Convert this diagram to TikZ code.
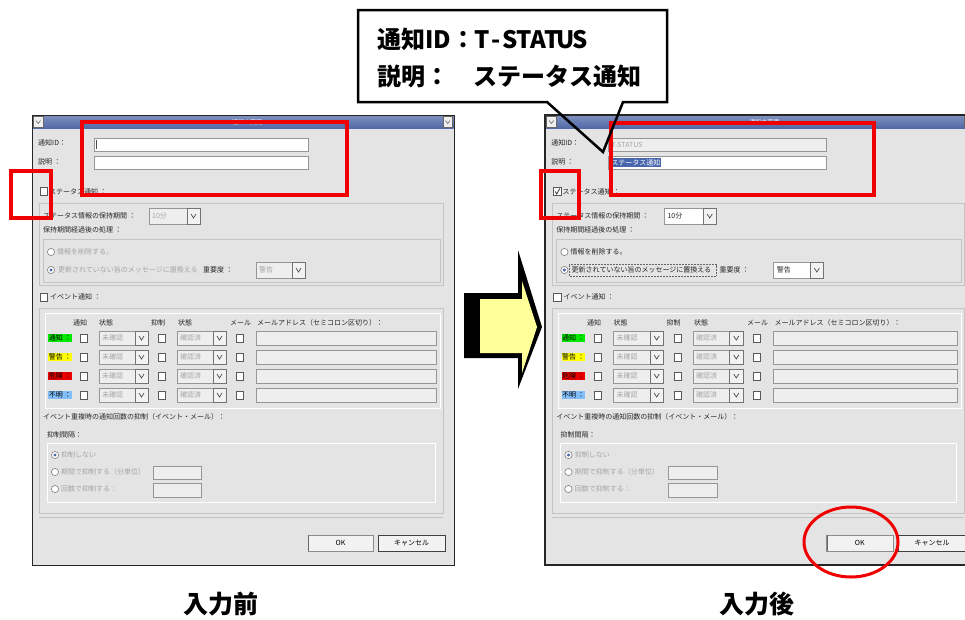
\documentclass[tikz,border=0pt]{standalone}
\usepackage{fontspec}
\newfontfamily\jp{Noto Sans CJK JP}
\definecolor{dlgbg}{RGB}{228,228,228}
\definecolor{grpline}{RGB}{196,196,196}
\definecolor{fieldbd}{RGB}{150,150,150}
\definecolor{disfill}{RGB}{238,238,238}
\definecolor{distext}{RGB}{165,165,165}
\definecolor{titleblue}{RGB}{82,106,168}
\definecolor{selblue}{RGB}{72,102,172}
\definecolor{lgreen}{RGB}{0,235,0}
\definecolor{lyellow}{RGB}{255,255,0}
\definecolor{lred}{RGB}{235,0,0}
\definecolor{lblue}{RGB}{130,190,250}
\definecolor{arrowyellow}{RGB}{255,255,153}
\definecolor{markred}{RGB}{240,0,0}
\newif\ifafterstate
\tikzset{
  txt/.style={font=\jp\fontsize{7}{8}\selectfont, anchor=west, inner sep=0pt, text=black!85},
  dtxt/.style={txt, text=distext},
  grp/.style={draw=grpline, line width=0.8pt},
  fld/.style={draw=fieldbd, line width=0.6pt},
  redmark/.style={draw=markred, line width=4pt},
  bigjp/.style={font=\jp\bfseries\fontsize{24}{26}\selectfont, anchor=west, inner sep=0pt},
  caption/.style={font=\jp\bfseries\fontsize{25}{27}\selectfont, inner sep=0pt}
}
\newcommand\spc[1]{\makebox[14pt]{#1}}
% check box: x, y (center), checked 1/0
\newcommand\chkb[3]{%
  \draw[fill=white, draw=black!65, line width=0.6pt] ({#1-3.5},{#2-4}) rectangle ({#1+3.5},{#2+4});
  \ifnum#3=1 \draw[black!80, line width=0.8pt] ({#1-2},{#2}) -- ({#1-0.5},{#2+2.5}) -- ({#1+2.5},{#2-3});\fi}
% radio: x, y, selected 1/0
\newcommand\radb[3]{%
  \draw[fill=white, draw=black!50, line width=0.6pt] (#1,#2) circle (3.6);
  \ifnum#3=1 \fill[selblue] (#1,#2) circle (1.7);\fi}
% dropdown: x1, yc, x2, half height, text, fill, textstyle
\newcommand\ddb[7]{%
  \draw[fld, fill=#6] (#1,{#2-#4}) rectangle ({#3-13},{#2+#4});
  \draw[fill=dlgbg!50!white, draw=black!55, line width=0.6pt] ({#3-13},{#2-#4}) rectangle (#3,{#2+#4});
  \draw[black!70, line width=0.7pt] ({#3-9},{#2-2}) -- ({#3-6.5},{#2+2}) -- ({#3-4},{#2-2});
  \node[#7] at ({#1+3},#2) {#5};}
% one event row: y, label, colour
\newcommand\evrow[3]{%
  \node[txt, fill=#3, text=black, inner sep=0.6pt] at (16,#1) {#2};
  \chkb{52}{#1}{0}
  \ddb{67}{#1}{116}{7}{未確認}{disfill}{dtxt}
  \chkb{130}{#1}{0}
  \ddb{145}{#1}{194}{7}{確認済}{disfill}{dtxt}
  \chkb{208}{#1}{0}
  \draw[fld, fill=disfill] (224,{#1-7}) rectangle (404,{#1+7});}
% the dialog: name prefix, frame line width
\newcommand\drawdialog[2]{%
  \fill[dlgbg] (0,0) rectangle (422,450);
  \shade[top color=titleblue!75!white, bottom color=titleblue] (0.5,0.5) rectangle (421.5,13);
  \draw[fill=dlgbg!60!white, draw=black!60] (1.5,1.5) rectangle (11,12);
  \draw[fill=dlgbg!60!white, draw=black!60] (411,1.5) rectangle (420.5,12);
  \draw[black!60, line width=0.6pt] (4,5.5) -- (6.25,8.5) -- (8.5,5.5);
  \draw[black!60, line width=0.6pt] (413.5,5.5) -- (415.75,8.5) -- (418,5.5);
  \node[font=\jp\fontsize{6}{6}\selectfont, text=white, inner sep=0pt] (#1-title) at (215,7) {通知の変更};
  % id and description
  \node[txt] (#1-idl) at (6,28) {通知ID：};
  \node[txt] (#1-descl) at (6,47) {説明 ：};
  \ifafterstate
    \draw[fld, fill=disfill] (62,23) rectangle (276,36);
    \node[dtxt] (#1-idv) at (65,29.5) {T-STATUS};
    \draw[fld, fill=white] (62,41) rectangle (276,54);
    \node[txt, fill=selblue, text=white, inner sep=0.8pt] (#1-descv) at (64,47.5) {ステータス通知};
  \else
    \draw[fld, fill=white] (62,23) rectangle (276,36);
    \draw[black!70, line width=0.5pt] (64.5,25) -- (64.5,34);
    \draw[fld, fill=white] (62,41) rectangle (276,54);
  \fi
  % status notification
  \ifafterstate \chkb{12}{76.5}{1} \else \chkb{12}{76.5}{0} \fi
  \node[txt] (#1-stl) at (17,76.5) {ステータス通知 ：};
  \draw[grp] (7,88) rectangle (411,170);
  \node[txt] (#1-keep) at (11,101) {ステータス情報の保持期間 ：};
  \ifafterstate
    \ddb{117}{101}{168}{8}{10分}{white}{txt}
  \else
    \ddb{117}{101}{168}{8}{10分}{disfill}{dtxt}
  \fi
  \node[txt] (#1-after) at (11,115) {保持期間経過後の処理 ：};
  \draw[grp] (11,124) rectangle (408,167);
  \ifafterstate
    \radb{19}{137}{0} \node[txt] (#1-r1) at (25,137) {情報を削除する。};
    \radb{19}{155}{1} \node[txt] (#1-r2) at (26,155) {更新されていない旨のメッセージに置換える};
    \draw[black!60, densely dotted, line width=0.5pt] (24,149.5) rectangle (168,161);
    \node[txt] (#1-imp) at (171,155) {重要度 ：};
    \ddb{224}{155}{273}{8}{警告}{white}{txt}
  \else
    \radb{19}{137}{0} \node[dtxt] (#1-r1) at (25,137) {情報を削除する。};
    \radb{19}{155}{1} \node[dtxt] (#1-r2) at (26,155) {更新されていない旨のメッセージに置換える};
    \node[txt] (#1-imp) at (171,155) {重要度 ：};
    \ddb{224}{155}{273}{8}{警告}{disfill}{dtxt}
  \fi
  % event notification
  \chkb{12}{182}{0}
  \node[txt] (#1-evl) at (18,182) {イベント通知 ：};
  \draw[grp] (7,193) rectangle (411,398);
  \draw[grp, draw=white] (13,198) rectangle (408,293);
  \node[txt] (#1-h1) at (41,208) {通知};
  \node[txt] (#1-h2) at (67,208) {状態};
  \node[txt] (#1-h3) at (119,208) {抑制};
  \node[txt] (#1-h4) at (146,208) {状態};
  \node[txt] (#1-h5) at (198,208) {メール};
  \node[txt] (#1-h6) at (225,208) {メールアドレス（セミコロン区切り）：};
  \evrow{223}{通知 ：}{lgreen}
  \evrow{242}{警告 ：}{lyellow}
  \evrow{261}{危険 ：}{lred}
  \evrow{280}{不明 ：}{lblue}
  \node[txt] (#1-dup) at (11,302) {イベント重複時の通知回数の抑制（イベント・メール）：};
  \node[txt] (#1-intv) at (15,320) {抑制間隔：};
  \draw[grp, draw=white] (15,328) rectangle (403,387);
  \radb{23}{340}{1} \node[dtxt] (#1-s1) at (29,340) {抑制しない};
  \radb{23}{357}{0} \node[dtxt] (#1-s2) at (29,357) {期間で抑制する（分単位）};
  \draw[fld, fill=disfill] (121,351) rectangle (169,364);
  \radb{23}{374}{0} \node[dtxt] (#1-s3) at (29,374) {回数で抑制する：};
  \draw[fld, fill=disfill] (121,368) rectangle (169,382);
  \draw[grpline, line width=0.8pt] (7,402) -- (411,402);
  % buttons
  \draw[fill=black!5, draw=black!45, line width=0.6pt] (276,420) rectangle (341,436);
  \draw[black!60, line width=1pt] (276.5,420) -- (276.5,436);
  \node[font=\jp\fontsize{7}{8}\selectfont, inner sep=0pt] (#1-ok) at (308.5,428) {OK};
  \draw[fill=black!5, draw=black!75, line width=0.8pt] (346,420) rectangle (413,436);
  \node[font=\jp\fontsize{7}{8}\selectfont, inner sep=0pt] (#1-cancel) at (379.5,428) {キャンセル};
  % frame
  \draw[black!85, line width=#2] (0,0) rectangle (422,450);
}
\begin{document}
\begin{tikzpicture}[x=1pt, y=-1pt]
\clip (0,0) rectangle (965,619);
\fill[white] (0,0) rectangle (965,619);
% left dialog (before)
\begin{scope}[shift={(32,115)}]
  \afterstatefalse
  \drawdialog{L}{0.8pt}
\end{scope}
% right dialog (after)
\begin{scope}[shift={(545,115)}, xscale=1.02]
  \afterstatetrue
  \drawdialog{R}{1.6pt}
\end{scope}
% red marks
\draw[redmark] (82,122) rectangle (347,195);
\draw[redmark] (11,171) rectangle (51,218);
\draw[redmark] (611,123) rectangle (874,195);
\draw[redmark] (541,171) rectangle (579,218);
\draw[markred, line width=3pt] (851,542) ellipse (47 and 35);
% block arrow
\fill[black] (464,293) -- (518,293) -- (518,250) -- (542,327) -- (518,389) -- (518,358) -- (464,358) -- cycle;
\fill[arrowyellow] (480,299) -- (522,299) -- (522,281) -- (537,327) -- (522,373) -- (522,353) -- (480,353) -- cycle;
% callout
\fill[white] (358,10) rectangle (667,102);
\draw[black, line width=2.5pt, line join=miter] (547,102) -- (358,102) -- (358,10) -- (667,10) -- (667,102) -- (623,102) -- (603,152) -- cycle;
\node[bigjp] (c1) at (377,39) {通知ID：\spc{T}\spc{-}\spc{S}\spc{T}\spc{A}\spc{T}\spc{U}\spc{S}};
\node[bigjp] (c2) at (377,76) {説明：　ステータス通知};
% captions
\node[caption] (cap1) at (221,604) {入力前};
\node[caption] (cap2) at (757,604) {入力後};
\end{tikzpicture}
\end{document}
